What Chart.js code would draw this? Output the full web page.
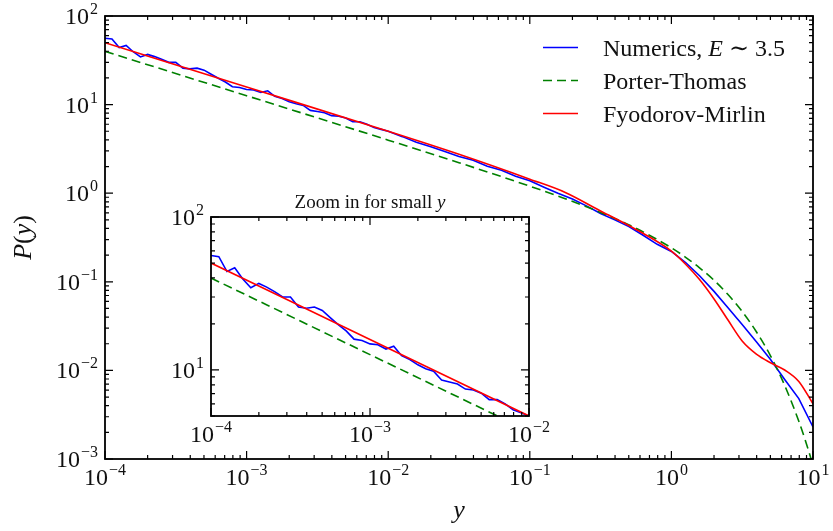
<!DOCTYPE html>
<html>
<head>
<meta charset="utf-8">
<script src="https://cdn.jsdelivr.net/npm/chart.js@4/dist/chart.umd.min.js"></script>
<style>
  html, body { margin: 0; padding: 0; background: #fff; }
  #wrap { position: relative; width: 833px; height: 531px; }
  #wrap canvas { position: absolute; left: 0; top: 0; }
</style>
</head>
<body>
<div id="wrap">
  <canvas id="main" width="833" height="531"></canvas>
  <canvas id="inset" width="833" height="531"></canvas>
</div>
<script>
// series labels / colours ($..$ = italic part)
const seriesLabels = ['Numerics, $E$ \u223c 3.5', 'Porter-Thomas', 'Fyodorov-Mirlin'];
const seriesColors = ['#0000ff', '#008000', '#ff0000'];

// numerics (blue)
const numericsX = [
  1e-4, 1.12e-4, 1.26e-4, 1.41e-4, 1.58e-4, 1.78e-4, 2.0e-4, 2.24e-4, 2.51e-4, 2.82e-4,
  3.16e-4, 3.55e-4, 3.98e-4, 4.47e-4, 5.01e-4, 5.62e-4, 6.31e-4, 7.08e-4, 7.94e-4, 8.91e-4,
  1e-3, 1.12e-3, 1.26e-3, 1.41e-3, 1.58e-3, 1.78e-3, 2.0e-3, 2.24e-3, 2.51e-3, 2.82e-3,
  3.16e-3, 3.55e-3, 3.98e-3, 4.47e-3, 5.01e-3, 5.62e-3, 6.31e-3, 7.08e-3, 7.94e-3, 8.91e-3,
  1e-2, 1.26e-2, 1.58e-2, 2.0e-2, 2.51e-2, 3.16e-2, 3.98e-2, 5.01e-2, 6.31e-2, 7.94e-2,
  0.1, 0.126, 0.158, 0.2, 0.251, 0.316, 0.398, 0.501, 0.631, 0.794,
  1, 1.26, 1.58, 2.0, 2.51, 3.16, 3.98, 5.01, 6.31, 7.94, 10
];
const numericsY = [
  56, 55, 44, 46.5, 39.5, 34.5, 36.8, 34.8, 32.5, 30,
  30, 25.8, 25.3, 25.8, 24.5, 22, 19.8, 18, 15.9, 15.6,
  14.8, 14.6, 13.7, 14.3, 12.4, 11.7, 10.8, 10.2, 9.8, 8.6,
  8.35, 8.1, 7.5, 7.4, 7.05, 6.4, 6.4, 6.0, 5.5, 5.25,
  5.0, 4.35, 3.75, 3.35, 2.95, 2.6, 2.35, 2.02, 1.82, 1.55,
  1.38, 1.17, 1.0, 0.86, 0.72, 0.59, 0.5, 0.42, 0.335, 0.265,
  0.22, 0.165, 0.117, 0.078, 0.051, 0.033, 0.021, 0.0133, 0.0079, 0.0048, 0.0023
];

// Porter-Thomas (green dashed)
const porterX = [1e-4, 1e-3, 1e-2, 3.16e-2, 0.1, 0.178, 0.316, 0.562, 1, 1.26, 1.58, 2, 2.51, 3.16, 3.98, 5.01, 6.31, 7.94, 8.91, 10];
const porterY = [39.9, 12.6, 3.97, 2.21, 1.2, 0.866, 0.606, 0.402, 0.242, 0.189, 0.144, 0.104, 0.0718, 0.0462, 0.0273, 0.0146, 0.00677, 0.00267, 0.00155, 0.00085];

// Fyodorov-Mirlin (red)
const fmX = [1e-4, 1e-3, 1e-2, 3.16e-2, 0.1, 0.178, 0.316, 0.562, 1, 1.26, 1.58, 2, 2.51, 3.16, 3.98, 5.01, 6.31, 7.94, 10];
const fmY = [50, 15.8, 5.0, 2.75, 1.44, 1.02, 0.63, 0.39, 0.222, 0.158, 0.106, 0.064, 0.037, 0.0215, 0.0153, 0.0122, 0.0101, 0.0075, 0.0042];

// decade tick labels (exponents of 10)
const mainXExps = [-4, -3, -2, -1, 0, 1];
const mainYExps = [-3, -2, -1, 0, 1, 2];
const insetXExps = [-4, -3, -2];
const insetYExps = [1, 2];

const FONT = '"Liberation Serif", "DejaVu Serif", serif';
const TEXT = '#111';

const toPoints = (xs, ys) => xs.map((x, i) => ({ x, y: ys[i] }));

const logTicks = (min, max) => {
  const out = [];
  for (let e = Math.floor(Math.log10(min)); e <= Math.ceil(Math.log10(max)); e++) {
    for (let m = 1; m < 10; m++) {
      const v = m * Math.pow(10, e);
      if (v >= min * 0.999 && v <= max * 1.001) out.push({ v, major: m === 1 });
    }
  }
  return out;
};

const drawRich = (ctx, text, x, y, size, align) => {
  const parts = text.split('$').map((t, i) => ({ t, it: i % 2 === 1 })).filter((p) => p.t);
  const font = (p) => (p.it ? 'italic ' : '') + size + 'px ' + FONT;
  let w = 0;
  parts.forEach((p) => { ctx.font = font(p); p.w = ctx.measureText(p.t).width; w += p.w; });
  let cx = align === 'center' ? x - w / 2 : align === 'right' ? x - w : x;
  ctx.textAlign = 'left';
  ctx.textBaseline = 'alphabetic';
  parts.forEach((p) => { ctx.font = font(p); ctx.fillText(p.t, cx, y); cx += p.w; });
};

const drawPow = (ctx, e, x, y, align) => {
  const base = '10';
  const sup = e < 0 ? '\u2212' + (-e) : String(e);
  ctx.font = '24px ' + FONT;
  const wb = ctx.measureText(base).width;
  ctx.font = '16px ' + FONT;
  const ws = ctx.measureText(sup).width;
  const w = wb + 1 + ws;
  const x0 = align === 'center' ? x - w / 2 : x - w;
  ctx.textAlign = 'left';
  ctx.textBaseline = 'alphabetic';
  ctx.font = '24px ' + FONT;
  ctx.fillText(base, x0, y);
  ctx.font = '16px ' + FONT;
  ctx.fillText(sup, x0 + wb + 1, y - 10);
};

const axesFrame = {
  id: 'axesFrame',
  beforeDraw(chart, args, o) {
    const { ctx, chartArea: a } = chart;
    ctx.save();
    ctx.fillStyle = '#fff';
    if (o.fillAll) ctx.fillRect(0, 0, chart.width, chart.height);
    else ctx.fillRect(a.left, a.top, a.right - a.left, a.bottom - a.top);
    ctx.restore();
  },
  afterDatasetsDraw(chart, args, o) {
    const { ctx, chartArea: a } = chart;
    const xs = chart.scales.x;
    const ys = chart.scales.y;
    ctx.save();
    ctx.strokeStyle = '#000';
    ctx.lineWidth = 1.2;
    logTicks(xs.min, xs.max).forEach((t) => {
      const px = xs.getPixelForValue(t.v);
      const len = t.major ? 8 : 4;
      ctx.beginPath();
      ctx.moveTo(px, a.bottom); ctx.lineTo(px, a.bottom - len);
      ctx.moveTo(px, a.top); ctx.lineTo(px, a.top + len);
      ctx.stroke();
    });
    logTicks(ys.min, ys.max).forEach((t) => {
      const py = ys.getPixelForValue(t.v);
      const len = t.major ? 8 : 4;
      ctx.beginPath();
      ctx.moveTo(a.left, py); ctx.lineTo(a.left + len, py);
      ctx.moveTo(a.right, py); ctx.lineTo(a.right - len, py);
      ctx.stroke();
    });
    ctx.lineWidth = 1.8;
    ctx.strokeRect(a.left, a.top, a.right - a.left, a.bottom - a.top);

    ctx.fillStyle = TEXT;
    o.xExps.forEach((e) => drawPow(ctx, e, xs.getPixelForValue(Math.pow(10, e)), a.bottom + 26, 'center'));
    o.yExps.forEach((e) => drawPow(ctx, e, a.left - 7, ys.getPixelForValue(Math.pow(10, e)) + 8, 'right'));

    if (o.title) drawRich(ctx, o.title, (a.left + a.right) / 2, a.top - 9, 19, 'center');
    if (o.xLabel) drawRich(ctx, o.xLabel, (a.left + a.right) / 2, 518, 26, 'center');
    if (o.yLabel) {
      ctx.save();
      ctx.translate(31, (a.top + a.bottom) / 2);
      ctx.rotate(-Math.PI / 2);
      drawRich(ctx, o.yLabel, 0, 0, 26, 'center');
      ctx.restore();
    }
    if (o.legend) {
      const L = o.legend;
      chart.data.datasets.forEach((ds, i) => {
        const ly = L.top + i * L.gap;
        ctx.strokeStyle = ds.borderColor;
        ctx.lineWidth = ds.borderWidth;
        ctx.setLineDash(ds.borderDash || []);
        ctx.beginPath();
        ctx.moveTo(L.x, ly); ctx.lineTo(L.x + L.len, ly);
        ctx.stroke();
        ctx.setLineDash([]);
        ctx.fillStyle = TEXT;
        drawRich(ctx, ds.label, L.textX, ly + 8, 24, 'left');
      });
    }
    ctx.restore();
  },
};

const makeChart = (id, xRange, yRange, padding, frame) => new Chart(document.getElementById(id), {
  type: 'line',
  data: {
    datasets: [
      { label: seriesLabels[0], data: toPoints(numericsX, numericsY), borderColor: seriesColors[0], borderWidth: 1.6, order: 3 },
      { label: seriesLabels[1], data: toPoints(porterX, porterY), borderColor: seriesColors[1], borderWidth: 1.6, borderDash: [9, 5], cubicInterpolationMode: 'monotone', order: 2 },
      { label: seriesLabels[2], data: toPoints(fmX, fmY), borderColor: seriesColors[2], borderWidth: 1.6, cubicInterpolationMode: 'monotone', order: 1 },
    ],
  },
  options: {
    responsive: false,
    animation: false,
    devicePixelRatio: 1,
    events: [],
    layout: { padding },
    elements: { point: { radius: 0 }, line: { tension: 0 } },
    scales: {
      x: { type: 'logarithmic', min: xRange[0], max: xRange[1], display: false },
      y: { type: 'logarithmic', min: yRange[0], max: yRange[1], display: false },
    },
    plugins: { legend: { display: false }, tooltip: { enabled: false }, axesFrame: frame },
  },
  plugins: [axesFrame],
});

makeChart('main', [1e-4, 10], [1e-3, 100], { left: 105, top: 16, right: 20, bottom: 72 }, {
  fillAll: true,
  xExps: mainXExps,
  yExps: mainYExps,
  xLabel: '$y$',
  yLabel: '$P$($y$)',
  legend: { x: 543, len: 35, textX: 603, top: 47.5, gap: 33 },
});

makeChart('inset', [1e-4, 1e-2], [5, 100], { left: 211, top: 217, right: 304, bottom: 115 }, {
  fillAll: false,
  xExps: insetXExps,
  yExps: insetYExps,
  title: 'Zoom in for small $y$',
});
</script>
</body>
</html>
